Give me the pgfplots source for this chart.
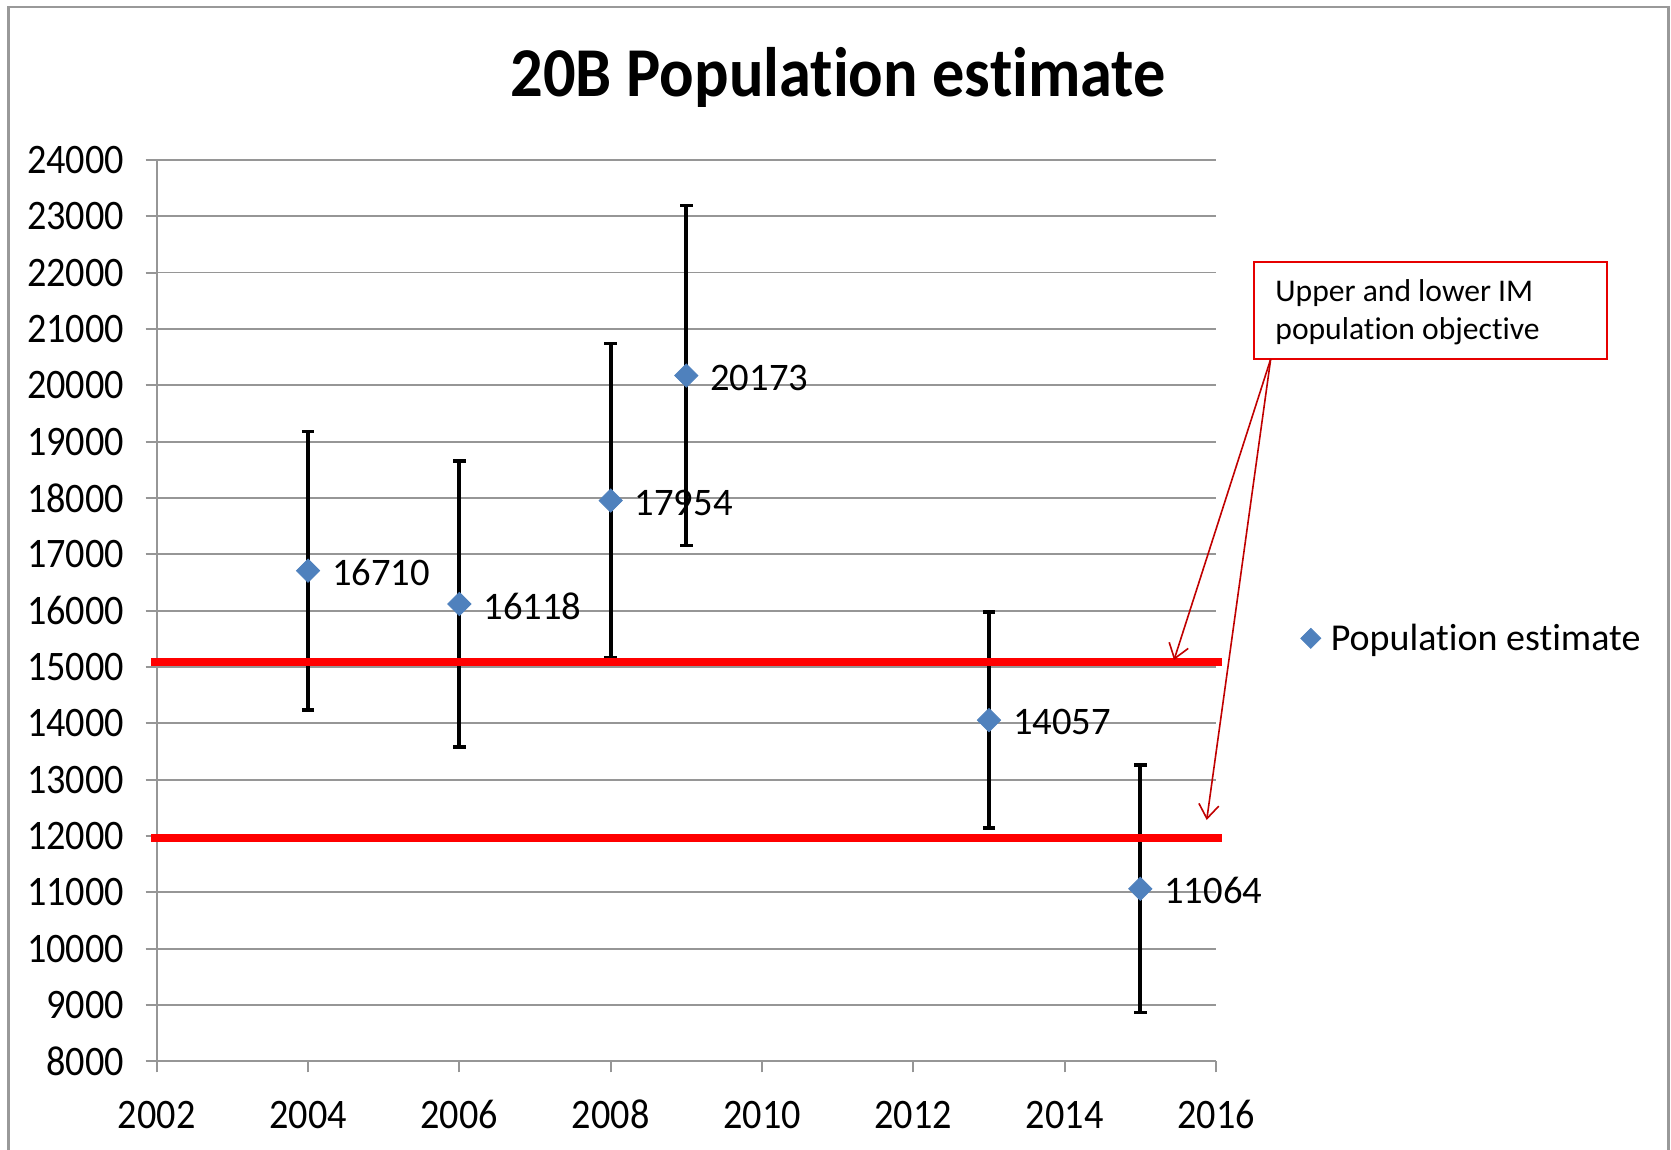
\documentclass[border=0pt]{standalone}
\usepackage{pgfplots}
\pgfplotsset{compat=1.18}
\usepackage{pgfplotstable}
\usepackage{fontspec}
\setmainfont{Carlito}[Ligatures={NoCommon}]
\usetikzlibrary{arrows.meta}
\definecolor{mblue}{RGB}{79,129,189}
\definecolor{gridgray}{RGB}{150,150,150}
\definecolor{objred}{RGB}{255,0,0}
\definecolor{boxred}{RGB}{230,0,0}
\definecolor{arrred}{RGB}{192,0,0}
\newcommand{\sx}[1]{\scalebox{0.91}[1]{#1}}

\pgfplotstableread{
year pop err label
2004 16710 2470 16710
2006 16118 2540 16118
2008 17954 2790 17954
2009 20173 3020 20173
2013 14057 1917 14057
2015 11064 2198 11064
}\popdata

\begin{document}
\begin{tikzpicture}[x=1pt,y=1pt]
\path[use as bounding box] (0,0) rectangle (835.5,-575);
\draw[gray!80, line width=1.2pt] (4.25,-590) -- (4.25,-3.4) -- (834.3,-3.4) -- (834.3,-590);
\node[anchor=base, font=\bfseries\fontsize{35}{42}\selectfont] at (419,-48.35) {\scalebox{0.92}[1]{20B Population estimate}};

\begin{axis}[
  scale only axis, width=529.65pt, height=450.75pt,
  at={(78.35pt,-530.7pt)}, anchor=south west,
  clip=false,
  xmin=2002, xmax=2016, ymin=8000, ymax=24000,
  scaled y ticks=false, scaled x ticks=false,
  xtick={2002,2004,2006,2008,2010,2012,2014,2016},
  xticklabels={\sx{2002},\sx{2004},\sx{2006},\sx{2008},\sx{2010},\sx{2012},\sx{2014},\sx{2016}},
  ytick={8000,9000,10000,11000,12000,13000,14000,15000,16000,17000,18000,19000,20000,21000,22000,23000,24000},
  yticklabels={\sx{8000},\sx{9000},\sx{10000},\sx{11000},\sx{12000},\sx{13000},\sx{14000},\sx{15000},\sx{16000},\sx{17000},\sx{18000},\sx{19000},\sx{20000},\sx{21000},\sx{22000},\sx{23000},\sx{24000}},
  tick label style={font=\fontsize{21}{25}\selectfont, text=black},
  yticklabel style={xshift=-7.3pt},
  xticklabel style={yshift=-11pt, text height=13.5pt, text depth=0pt},
  axis x line*=bottom, axis y line*=left,
  axis line style={gridgray, line width=1pt},
  tick align=outside, major tick length=5.5pt,
  tick style={gridgray, line width=1pt},
  ymajorgrids, grid style={gridgray, line width=0.9pt},
  legend style={at={(1.074,0.4693)}, anchor=west, draw=none, fill=none,
    column sep=3pt, font=\fontsize{19}{22}\selectfont},
  legend image code/.code={\draw[#1, mark size=3.54pt] plot coordinates {(0pt,0pt)};},
]
% error bars
\addplot[black, only marks, mark=none, forget plot,
  error bars/.cd, y dir=both, y explicit,
  error bar style={line width=2.1pt, black},
  error mark options={rotate=90, black, line width=1.8pt, mark size=3.1pt}]
  table[x=year, y=pop, y error=err] {\popdata};
% objective lines
\addplot[objred, line width=4pt, forget plot] coordinates {(2001.93,15095) (2016.08,15095)};
\addplot[objred, line width=4pt, forget plot] coordinates {(2001.93,11970) (2016.08,11970)};
% markers with labels
\addplot[only marks, mark=square*, mark size=4.1pt,
  mark options={rotate=45, fill=mblue, draw=mblue},
  point meta=explicit symbolic,
  nodes near coords={\scalebox{0.99}[1]{\pgfplotspointmeta}},
  every node near coord/.append style={anchor=west, xshift=8.5pt, yshift=-1pt,
     font=\fontsize{19.5}{23}\selectfont, color=black}]
  table[x=year, y=pop, meta=label] {\popdata};
\addlegendentry{Population estimate}
\end{axis}

% annotation
\draw[boxred, line width=0.7pt] (627,-131) rectangle (803.5,-179.5);
\node[anchor=base west, inner sep=0pt, align=left, font=\fontsize{15.8}{19}\selectfont] at (637.5,-170) {Upper and lower IM\\population objective};
\draw[arrred, line width=0.8pt, -{Straight Barb[length=7pt,width=10pt]}] (635.35,-179.5) -- (587,-330);
\draw[arrred, line width=0.8pt, -{Straight Barb[length=7pt,width=10pt]}] (635.35,-179.5) -- (603.35,-410);
\end{tikzpicture}
\end{document}
